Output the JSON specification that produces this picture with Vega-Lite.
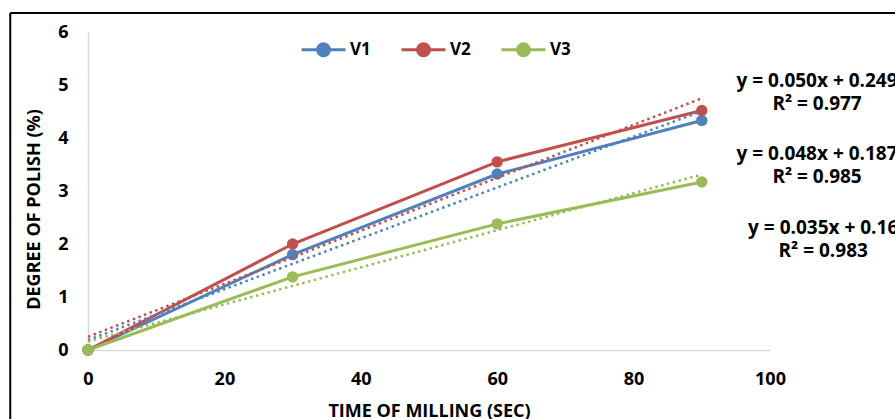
{
  "$schema": "https://vega.github.io/schema/vega-lite/v6.json",
  "width": 682,
  "height": 318,
  "autosize": {"type": "none"},
  "padding": {"left": 88, "top": 32, "right": 125, "bottom": 69},
  "background": "white",
  "config": {
    "view": {"stroke": null},
    "font": "Open Sans",
    "axis": {
      "labelFont": "Open Sans", "labelFontWeight": "bold", "labelFontSize": 18, "labelColor": "#000000",
      "titleFont": "Open Sans", "titleFontWeight": "bold", "titleFontSize": 18, "titleColor": "#000000",
      "grid": false, "ticks": false, "domainColor": "#D9D9D9", "domainWidth": 1.5, "labelFlush": false
    }
  },
  "datasets": {
    "series": [
      {"series": "V1", "time": 0, "polish": 0},
      {"series": "V1", "time": 30, "polish": 1.8},
      {"series": "V1", "time": 60, "polish": 3.32},
      {"series": "V1", "time": 90, "polish": 4.33},
      {"series": "V2", "time": 0, "polish": 0},
      {"series": "V2", "time": 30, "polish": 2.0},
      {"series": "V2", "time": 60, "polish": 3.55},
      {"series": "V2", "time": 90, "polish": 4.52},
      {"series": "V3", "time": 0, "polish": 0},
      {"series": "V3", "time": 30, "polish": 1.38},
      {"series": "V3", "time": 60, "polish": 2.38},
      {"series": "V3", "time": 90, "polish": 3.17}
    ],
    "trend": [
      {"series": "V1", "time": 0, "polish": 0.187},
      {"series": "V1", "time": 90, "polish": 4.507},
      {"series": "V2", "time": 0, "polish": 0.249},
      {"series": "V2", "time": 90, "polish": 4.749},
      {"series": "V3", "time": 0, "polish": 0.16},
      {"series": "V3", "time": 90, "polish": 3.31}
    ]
  },
  "layer": [
    {
      "data": {"values": [{}]},
      "mark": {"type": "rule", "color": "#000000", "strokeWidth": 2, "clip": false},
      "encoding": {
        "x": {"datum": -11.4, "type": "quantitative", "scale": {"domain": [0, 100]}},
        "y": {"datum": 6.36, "type": "quantitative", "scale": {"domain": [0, 6]}},
        "y2": {"datum": -1.5}
      }
    },
    {
      "data": {"values": [{}]},
      "mark": {"type": "rule", "color": "#000000", "strokeWidth": 2, "clip": false},
      "encoding": {
        "x": {"datum": -11.4, "type": "quantitative"},
        "x2": {"datum": 122},
        "y": {"datum": 6.36, "type": "quantitative"}
      }
    },
    {
      "data": {"name": "series"},
      "mark": {"type": "line", "strokeWidth": 3},
      "encoding": {
        "x": {"field": "time", "type": "quantitative", "scale": {"domain": [0, 100], "nice": false},
              "axis": {"values": [0, 20, 40, 60, 80, 100], "title": "TIME OF MILLING (SEC)", "labelPadding": 20, "titlePadding": 14}},
        "y": {"field": "polish", "type": "quantitative", "scale": {"domain": [0, 6], "nice": false},
              "axis": {"values": [0, 1, 2, 3, 4, 5, 6], "title": "DEGREE OF POLISH (%)", "labelPadding": 20, "titlePadding": 14, "titleY": 177}},
        "color": {"field": "series", "type": "nominal",
          "scale": {"domain": ["V1", "V2", "V3"], "range": ["#4F81BD", "#C0504D", "#9BBB59"]},
          "legend": {
            "title": null, "orient": "none", "direction": "horizontal", "legendX": 212, "legendY": -6,
            "symbolType": "M-1,0L1,0M-0.27,0A0.27,0.27,0,1,1,0.27,0A0.27,0.27,0,1,1,-0.27,0Z",
            "symbolSize": 1936, "symbolStrokeWidth": 3, "labelOffset": 3, "columnPadding": 24,
            "labelFont": "Open Sans", "labelFontWeight": "bold", "labelFontSize": 17, "labelColor": "#000000",
            "encode": {"symbols": {"update": {"fill": {"scale": "color", "field": "value"}, "stroke": {"scale": "color", "field": "value"}, "strokeDash": {"value": []}}}}
          }
        }
      }
    },
    {
      "data": {"name": "series"},
      "mark": {"type": "point", "filled": true, "opacity": 1, "size": 130},
      "encoding": {
        "x": {"field": "time", "type": "quantitative"},
        "y": {"field": "polish", "type": "quantitative"},
        "color": {"field": "series", "type": "nominal", "legend": null}
      }
    },
    {
      "data": {"name": "trend"},
      "mark": {"type": "line", "strokeWidth": 2.5, "strokeDash": [2.5, 3.5]},
      "encoding": {
        "x": {"field": "time", "type": "quantitative"},
        "y": {"field": "polish", "type": "quantitative"},
        "color": {"field": "series", "type": "nominal", "legend": null}
      }
    },
    {
      "data": {"values": [{"series": "V2", "lines": ["y = 0.050x + 0.249", "R² = 0.977"]}]},
      "mark": {"type": "text", "align": "center", "baseline": "middle", "lineHeight": 23, "font": "Open Sans", "fontWeight": "bold", "fontSize": 19, "color": "#000000", "clip": false},
      "encoding": {
        "x": {"datum": 106.9, "type": "quantitative"},
        "y": {"datum": 5.075, "type": "quantitative"},
        "text": {"field": "lines"}
      }
    },
    {
      "data": {"values": [{"series": "V1", "lines": ["y = 0.048x + 0.187", "R² = 0.985"]}]},
      "mark": {"type": "text", "align": "center", "baseline": "middle", "lineHeight": 23, "font": "Open Sans", "fontWeight": "bold", "fontSize": 19, "color": "#000000", "clip": false},
      "encoding": {
        "x": {"datum": 106.9, "type": "quantitative"},
        "y": {"datum": 3.689, "type": "quantitative"},
        "text": {"field": "lines"}
      }
    },
    {
      "data": {"values": [{"series": "V3", "lines": ["y = 0.035x + 0.16", "R² = 0.983"]}]},
      "mark": {"type": "text", "align": "center", "baseline": "middle", "lineHeight": 23, "font": "Open Sans", "fontWeight": "bold", "fontSize": 19, "color": "#000000", "clip": false},
      "encoding": {
        "x": {"datum": 107.8, "type": "quantitative"},
        "y": {"datum": 2.302, "type": "quantitative"},
        "text": {"field": "lines"}
      }
    }
  ]
}
